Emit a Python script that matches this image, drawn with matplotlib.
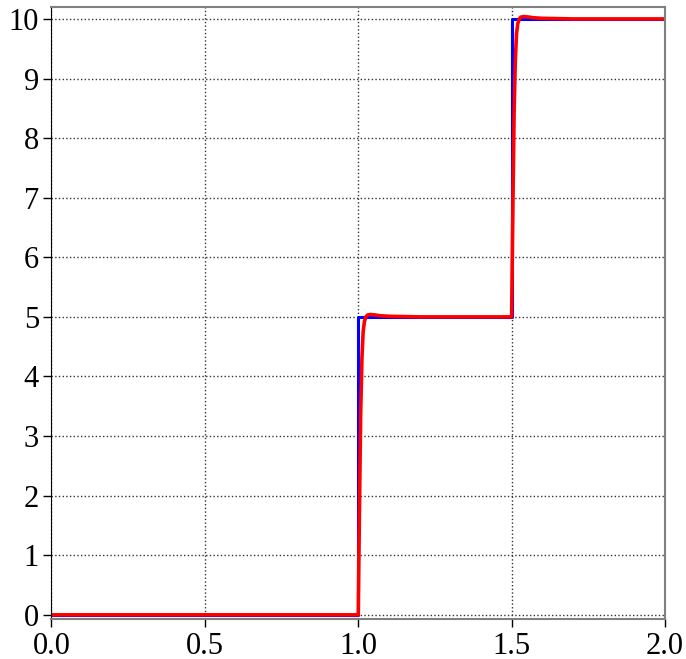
import matplotlib
matplotlib.use('Agg')
import matplotlib.pyplot as plt

# reference (ideal) step input
t_ref = [0.0, 1.0, 1.0, 1.5, 1.5, 2.0]
y_ref = [0.0, 0.0, 5.0, 5.0, 10.0, 10.0]

# tracked response
t_out = [0.0, 1.0, 1.004, 1.008, 1.012, 1.016, 1.02, 1.025, 1.03, 1.04, 1.05, 1.07, 1.1, 1.2, 1.5,
         1.504, 1.508, 1.512, 1.516, 1.52, 1.525, 1.53, 1.54, 1.55, 1.57, 1.6, 1.7, 2.0]
y_out = [0.0, 0.0, 1.8, 3.4, 4.3, 4.75, 4.92, 5.0, 5.03, 5.04, 5.035, 5.02, 5.01, 5.0, 5.0,
         6.8, 8.4, 9.3, 9.75, 9.92, 10.0, 10.03, 10.04, 10.035, 10.02, 10.01, 10.0, 10.0]

plt.rcParams['font.family'] = ['Liberation Serif', 'DejaVu Serif']

fig = plt.figure(figsize=(6.86, 6.59), dpi=100)
ax = fig.add_axes([51.5/686, 1 - 619/659, (665 - 51.5)/686, (619 - 7)/659])

ax.plot(t_ref, y_ref, color='#0000ff', lw=2.2)
ax.plot(t_out, y_out, color='#ff0000', lw=2.6)

ax.set_xlim(0, 2)
ax.set_ylim(-0.07, 10.2)
ax.set_xticks([0, 0.5, 1.0, 1.5, 2.0])
ax.set_xticklabels(['0.0', '0.5', '1.0', '1.5', '2.0'])
ax.set_yticks(range(0, 11))
ax.grid(True, linestyle=':', color='#333333', lw=1)
ax.tick_params(labelsize=22, length=6, width=1, direction='out', color='black', pad=3)
for s in ['top', 'right', 'bottom']:
    ax.spines[s].set_color('#808080')
    ax.spines[s].set_linewidth(1.5)
ax.spines['left'].set_color('black')

plt.savefig('out.png')
